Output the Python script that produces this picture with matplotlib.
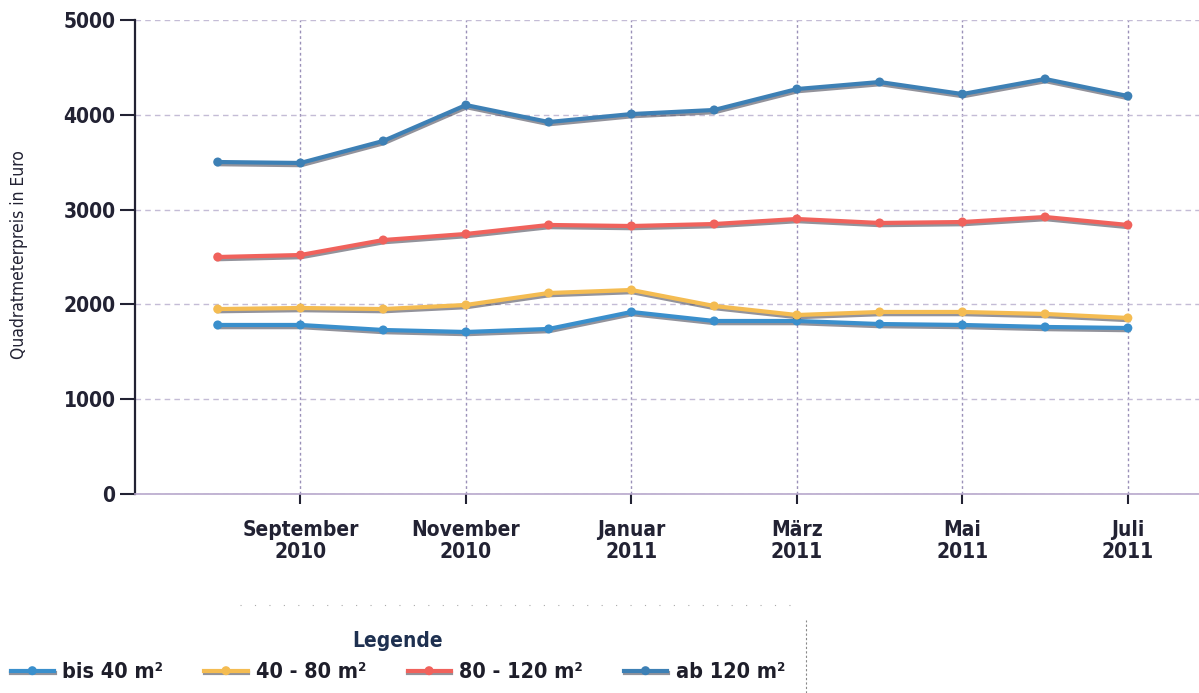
import matplotlib
matplotlib.use("Agg")
import matplotlib.pyplot as plt
import matplotlib.patheffects as pe
from matplotlib.lines import Line2D

# months, Aug 2010 .. Jul 2011 (index 1..12, 0 = Jul 2010)
months = list(range(1, 13))
tick_pos = [2, 4, 6, 8, 10, 12]
tick_labels = ["September\n2010", "November\n2010", "Januar\n2011",
               "März\n2011", "Mai\n2011", "Juli\n2011"]

bis_40 = [1783, 1783, 1730, 1709, 1741, 1920, 1825, 1825, 1793, 1783, 1762, 1751]
m40_80 = [1951, 1962, 1951, 1994, 2120, 2152, 1983, 1888, 1920, 1920, 1899, 1857]
m80_120 = [2500, 2521, 2679, 2743, 2838, 2827, 2848, 2901, 2859, 2869, 2922, 2838]
ab_120 = [3502, 3492, 3724, 4103, 3924, 4008, 4051, 4272, 4346, 4219, 4378, 4198]

series = [
    ("bis 40 m²", bis_40, "#3a8fcc"),
    ("40 - 80 m²", m40_80, "#f4bc52"),
    ("80 - 120 m²", m80_120, "#f0625c"),
    ("ab 120 m²", ab_120, "#3d80b5"),
]

plt.rcParams["font.family"] = ["DejaVu Sans"]
plt.rcParams["font.weight"] = "bold"
plt.rcParams["font.stretch"] = "condensed"

fig = plt.figure(figsize=(11.99, 6.93), dpi=100)
ax = fig.add_axes([0.1126, 0.2872, 0.8874, 0.6839])

shadow = [pe.SimpleLineShadow(offset=(0.5, -1.6), shadow_color="#3a3a4a", alpha=0.55),
          pe.Normal()]

handles = []
for name, vals, col in series:
    ln, = ax.plot(months, vals, color=col, lw=3.0, marker="o", ms=6.5,
                  markeredgewidth=0, label=name, path_effects=shadow, zorder=3)
    handles.append(ln)

ax.set_xlim(0, 12.86)
ax.set_ylim(0, 5000)
ax.set_yticks([0, 1000, 2000, 3000, 4000, 5000])
ax.set_xticks(tick_pos)
ax.set_xticklabels(tick_labels, fontsize=15, fontweight="bold", color="#222233",
                   linespacing=1.1)
ax.tick_params(axis="y", labelsize=15, length=11, width=1.5, color="#222233",
               labelcolor="#222233", pad=3)
ax.tick_params(axis="x", length=7, width=1.5, color="#222233", pad=12)

ax.grid(axis="y", color="#c4bcd6", lw=1, ls=(0, (4, 3)))
ax.grid(axis="x", color="#9a90b8", lw=1, ls=(0, (2, 2)))

for s in ["top", "right"]:
    ax.spines[s].set_visible(False)
ax.spines["left"].set_color("#222233")
ax.spines["left"].set_linewidth(1.6)
ax.spines["bottom"].set_color("#b8a8cc")
ax.spines["bottom"].set_linewidth(1.2)

fig.text(0.016, 0.632, "Quadratmeterpreis in Euro", rotation=90, ha="center",
         va="center", fontsize=12.5, fontweight="normal", color="#222233")

leg = fig.legend(handles=handles, loc="lower left", bbox_to_anchor=(0.0, 0.0),
                 ncol=4, frameon=False, fontsize=15.5, title="Legende",
                 title_fontproperties={"weight": "bold", "size": 15,
                                       "stretch": "condensed"},
                 handlelength=2.0, handletextpad=0.4, columnspacing=1.9,
                 borderaxespad=0.1)
leg.get_title().set_color("#1e3050")
for t in leg.get_texts():
    t.set_color("#1e1e2a")

# decorative separators
fig.add_artist(Line2D([0.2, 0.67], [0.127, 0.127], color="#aaaaaa", lw=0.8,
                      ls=(0, (1, 12)), transform=fig.transFigure))
fig.add_artist(Line2D([0.672, 0.672], [0.0, 0.105], color="#888888", lw=0.8,
                      ls=(0, (2, 2)), transform=fig.transFigure))

fig.savefig("out.png", dpi=100)
